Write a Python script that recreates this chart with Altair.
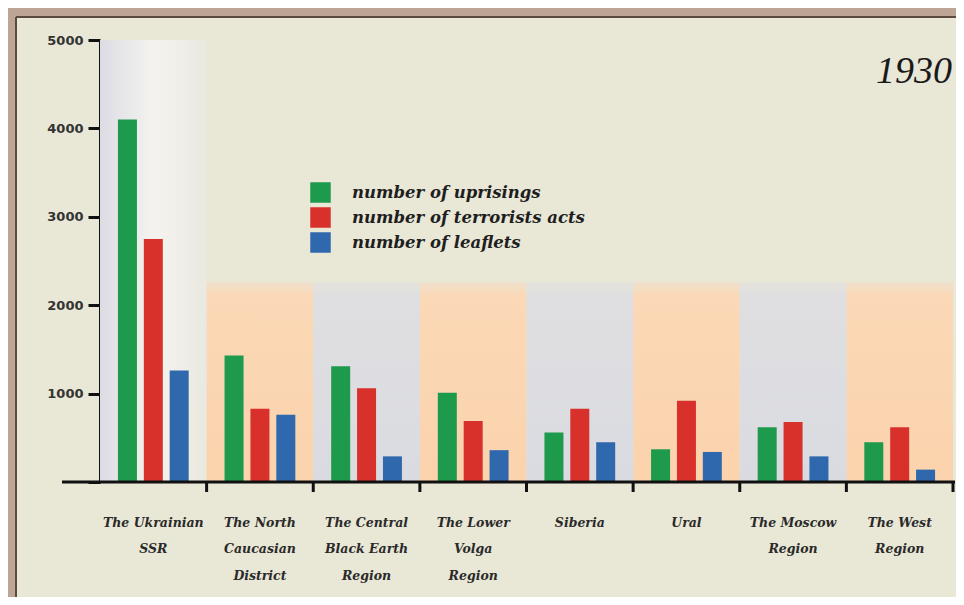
import altair as alt
import pandas as pd

# ---- data ----
regions = [
    "The Ukrainian\nSSR",
    "The North\nCaucasian\nDistrict",
    "The Central\nBlack Earth\nRegion",
    "The Lower\nVolga\nRegion",
    "Siberia",
    "Ural",
    "The Moscow\nRegion",
    "The West\nRegion",
]
series = ["number of uprisings", "number of terrorists acts", "number of  leaflets"]
uprisings = [4100, 1430, 1310, 1010, 560, 370, 620, 450]
terror_acts = [2750, 830, 1060, 690, 830, 920, 680, 620]
leaflets = [1260, 760, 290, 360, 450, 340, 290, 140]
colors = ["#1d9a4c", "#d8302a", "#2f68ad"]

# background bands behind each region
band_top = [5000, 2260, 2260, 2260, 2260, 2260, 2260, 2260]
band_kind = ["light", "peach", "grey", "peach", "grey", "peach", "grey", "peach"]

y_ticks = [0, 1000, 2000, 3000, 4000, 5000]
year_title = "1930"

# ---- tables ----
rows = []
for i, r in enumerate(regions):
    for s, vals in zip(series, [uprisings, terror_acts, leaflets]):
        rows.append({"region": r, "series": s, "value": vals[i]})
bars_df = pd.DataFrame(rows)
bands_df = pd.DataFrame({"region": regions, "top": band_top, "kind": band_kind})

W, H = 853, 442
BG = "#e9e7d6"

x_scale = alt.Scale(domain=regions, paddingInner=0, paddingOuter=0)
y_scale = alt.Scale(domain=[0, 5000], nice=False)

x_axis = alt.Axis(
    title=None, ticks=False, domain=False, labelAngle=0,
    labelExpr="split(datum.label, '\\n')",
    labelFont="DejaVu Serif", labelFontStyle="italic", labelFontWeight="bold",
    labelFontSize=12.5,
    labelLineHeight=26.5, labelColor="#2a2a2a", labelPadding=34,
    labelBaseline="top", labelLimit=200,
)
y_axis = alt.Axis(
    title=None, values=y_ticks, grid=False,
    labelExpr="datum.value == 0 ? '' : datum.label",
    format="d",
    domainColor="#111", domainWidth=3,
    tickColor="#111", tickWidth=3, tickSize=12,
    labelFont="DejaVu Sans", labelFontWeight="bold", labelFontSize=13,
    labelColor="#333", labelPadding=5,
)


def band_layer(kind, grad):
    return (
        alt.Chart(bands_df)
        .transform_filter(alt.datum.kind == kind)
        .mark_rect(color=grad)
        .encode(
            x=alt.X("region:N", scale=x_scale, axis=x_axis, sort=regions),
            y=alt.Y("top:Q", scale=y_scale, axis=y_axis),
            y2=alt.datum(0),
        )
    )


light_grad = alt.LinearGradient(
    gradient="linear", x1=0, x2=1, y1=0, y2=0,
    stops=[alt.GradientStop(offset=0, color="#dcdce4"),
           alt.GradientStop(offset=0.5, color="#f4f3ef"),
           alt.GradientStop(offset=1, color="#eae9e0")],
)
peach_grad = alt.LinearGradient(
    gradient="linear", x1=0, x2=0, y1=0, y2=1,
    stops=[alt.GradientStop(offset=0, color="#efe0cc"),
           alt.GradientStop(offset=0.07, color="#fbd8b6"),
           alt.GradientStop(offset=1, color="#fbd3ad")],
)
grey_grad = alt.LinearGradient(
    gradient="linear", x1=0, x2=0, y1=0, y2=1,
    stops=[alt.GradientStop(offset=0, color="#e4e3dc"),
           alt.GradientStop(offset=0.07, color="#dfdfe1"),
           alt.GradientStop(offset=1, color="#dadbe1")],
)

bands = (
    band_layer("light", light_grad)
    + band_layer("peach", peach_grad)
    + band_layer("grey", grey_grad)
)

bars = (
    alt.Chart(bars_df)
    .mark_bar(size=19)
    .encode(
        x=alt.X("region:N", scale=x_scale, axis=x_axis, sort=regions),
        xOffset=alt.XOffset(
            "series:N", sort=series,
            scale=alt.Scale(domain=series, paddingInner=0.28, paddingOuter=0.7),
        ),
        y=alt.Y("value:Q", scale=y_scale, axis=y_axis),
        color=alt.Color(
            "series:N",
            scale=alt.Scale(domain=series, range=colors),
            legend=alt.Legend(
                title=None, orient="none", legendX=210, legendY=142,
                symbolType="square", symbolSize=420, symbolStrokeWidth=0,
                symbolOpacity=1,
                labelFont="DejaVu Serif", labelFontStyle="italic",
                labelFontWeight="bold",
                labelFontSize=16.5, labelColor="#1e1e1e", labelLimit=400,
                labelOffset=21, rowPadding=4, padding=0,
            ),
        ),
    )
)

# tick marks at the right edge of every region band
ticks = (
    alt.Chart(bands_df)
    .mark_rule(color="#111", strokeWidth=3)
    .encode(
        x=alt.X("region:N", scale=x_scale, sort=regions, bandPosition=1, axis=x_axis),
        y=alt.value(H),
        y2=alt.value(H + 10),
    )
)

one = alt.Data(values=[{"k": 1}])
x_domain_line = alt.Chart(one).mark_rule(color="#111", strokeWidth=3).encode(
    x=alt.value(-38), x2=alt.value(W + 2), y=alt.value(H)
)

year = alt.Chart(one).mark_text(
    font="Liberation Serif", fontStyle="italic", fontSize=38,
    color="#1a1a1a", align="right", baseline="alphabetic",
).encode(x=alt.value(W - 1), y=alt.value(43), text=alt.value(year_title))

frame_top = alt.Chart(one).mark_rect(color="#bda596").encode(
    x=alt.value(-92), x2=alt.value(W + 3), y=alt.value(-32), y2=alt.value(-23)
)
frame_left = alt.Chart(one).mark_rect(color="#bda596").encode(
    x=alt.value(-92), x2=alt.value(-84), y=alt.value(-32), y2=alt.value(H + 115)
)
frame_line_top = alt.Chart(one).mark_rule(color="#5c4a40", strokeWidth=2).encode(
    x=alt.value(-84), x2=alt.value(W + 3), y=alt.value(-23)
)
frame_line_left = alt.Chart(one).mark_rule(color="#5c4a40", strokeWidth=2).encode(
    x=alt.value(-84), y=alt.value(-23), y2=alt.value(H + 115)
)

chart = (
    alt.layer(
        bands, bars, ticks, x_domain_line, year,
        frame_top, frame_left, frame_line_top, frame_line_left,
    )
    .properties(
        width=W, height=H,
        autosize=alt.AutoSizeParams(type="none"),
        padding={"left": 92, "top": 32, "right": 3, "bottom": 115},
        background=BG,
    )
    .configure_view(stroke=None)
)

chart.save("out.html", embed_options={"renderer": "svg", "actions": False})
